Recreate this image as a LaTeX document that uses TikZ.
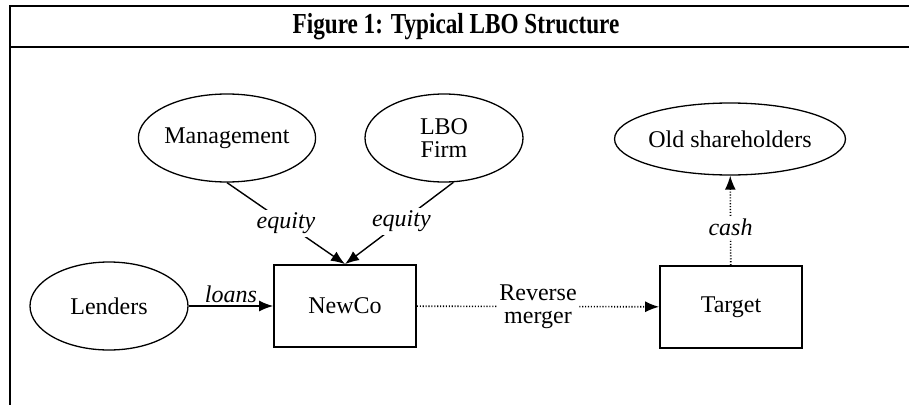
\documentclass[tikz,border=0pt]{standalone}
\usepackage{fontspec}
\setmainfont{Liberation Serif}
\usetikzlibrary{arrows.meta,shapes.geometric}
\begin{document}
\begin{tikzpicture}[x=1pt,y=-1pt,
  txt/.style={font=\fontsize{24}{23}\selectfont},
  party/.style={ellipse,draw,line width=1.3pt,minimum width=158pt,minimum height=88pt,
    inner sep=0pt,align=center,txt},
  firmbox/.style={rectangle,draw,line width=1.7pt,minimum width=142pt,minimum height=82pt,
    inner sep=0pt,txt},
  flow/.style={line width=1.4pt,-{Latex[length=14pt,width=11pt]}},
  dotflow/.style={line width=1.6pt,dash pattern=on 1.1pt off 1.8pt,-{Latex[length=14pt,width=11pt]}},
  lbl/.style={font=\fontsize{24}{23}\selectfont\itshape,inner sep=3pt},
  frame/.style={line width=1.8pt}
]
\useasboundingbox (0,0) rectangle (909,404);

% outer frame and title band
\draw[frame] (10,410) -- (10,6) -- (920,6);
\draw[frame] (10,47) -- (920,47);
\node[font=\fontsize{29}{30}\selectfont\bfseries,xscale=0.8] (title) at (456,27) {Figure 1: Typical LBO Structure};

% parties
\node[party] (mgmt) at (227,138) {Management};
\node[party] (lbo) at (444,138) {LBO\\Firm};
\node[party,minimum width=218pt,minimum height=72pt] (oldsh) at (730,139) {Old shareholders};
\node[party] (lenders) at (109,306) {Lenders};

% companies
\node[firmbox] (newco) at (345,306) {NewCo};
\node[firmbox] (target) at (731,307) {Target};

% flows
\draw[flow] (lenders) -- node[lbl,above,inner sep=3pt] (loans) {loans} (newco);
\draw[flow] (mgmt.south) -- node[lbl,fill=white] (eq1) {equity} (newco.north);
\draw[flow] (lbo.-78) -- node[lbl,fill=white,pos=0.48] (eq2) {equity} (newco.north);
\draw[dotflow] (newco) -- node[txt,fill=white,align=center,inner sep=2pt] (rm) {Reverse\\merger} (target);
\draw[dotflow] (target) -- node[lbl,fill=white,pos=0.42] (cash) {cash} (oldsh);
\end{tikzpicture}
\end{document}
